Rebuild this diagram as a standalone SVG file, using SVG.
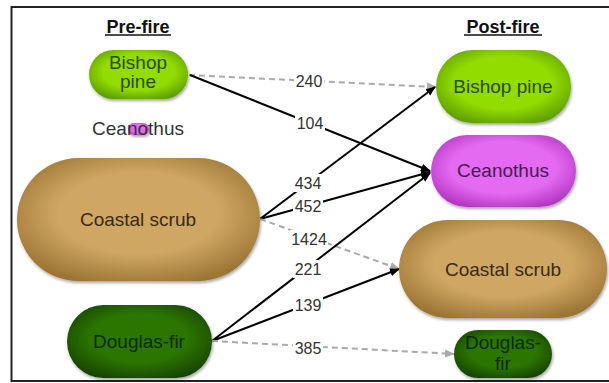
<svg xmlns="http://www.w3.org/2000/svg" width="609" height="383" viewBox="0 0 609 383">
<style>
.hdr{font-family:"Liberation Sans",Arial,sans-serif;font-size:18px;font-weight:bold;fill:#111;text-anchor:middle}
.nt{font-family:"Liberation Sans",Arial,sans-serif;font-size:19px;text-anchor:middle}
.lb{font-family:"Liberation Sans",Arial,sans-serif;font-size:16px;fill:#333;text-anchor:middle}
.solid{stroke:#000;stroke-width:2;fill:none;marker-end:url(#ah)}
.dash{stroke:#aaa;stroke-width:2;stroke-dasharray:6,4;fill:none;marker-end:url(#ahg)}
.lbg{fill:#fff}
</style>
<defs>
<radialGradient id="gBP" cx="50%" cy="45%" r="60%"><stop offset="0.6" stop-color="#92dc06"/><stop offset="1" stop-color="#5f9e00"/></radialGradient>
<radialGradient id="gCE" cx="50%" cy="45%" r="60%"><stop offset="0.6" stop-color="#e46af2"/><stop offset="1" stop-color="#b436c4"/></radialGradient>
<radialGradient id="gCS" cx="50%" cy="45%" r="60%"><stop offset="0.55" stop-color="#d0a762"/><stop offset="1" stop-color="#9c7434"/></radialGradient>
<radialGradient id="gDF" cx="50%" cy="45%" r="60%"><stop offset="0.55" stop-color="#2c7606"/><stop offset="1" stop-color="#174400"/></radialGradient>
<filter id="sh" x="-10%" y="-10%" width="120%" height="130%"><feDropShadow dx="1" dy="2" stdDeviation="1.5" flood-color="#000" flood-opacity="0.35"/></filter>
<marker id="ah" viewBox="0 0 10 10" refX="9" refY="5" markerWidth="5" markerHeight="5" orient="auto" markerUnits="strokeWidth"><path d="M0,1 L10,5 L0,9 z" fill="#000"/></marker>
<marker id="ahg" viewBox="0 0 10 10" refX="9" refY="5" markerWidth="5" markerHeight="5" orient="auto" markerUnits="strokeWidth"><path d="M0,1 L10,5 L0,9 z" fill="#aaa"/></marker>
</defs>
<rect x="0" y="0" width="609" height="383" fill="#fff"/>
<rect x="11.5" y="7" width="610" height="374" fill="#fff" stroke="#222" stroke-width="2"/>

<g id="headers">
<text class="hdr" x="138" y="33">Pre-fire</text>
<line x1="105" y1="35" x2="171" y2="35" stroke="#111" stroke-width="1.5"/>
<text class="hdr" x="503" y="33">Post-fire</text>
<line x1="464" y1="35" x2="542" y2="35" stroke="#111" stroke-width="1.5"/>
</g>

<g id="connectors">
<line class="dash" x1="189" y1="75" x2="436" y2="87"/>
<line class="solid" x1="190" y1="75" x2="430" y2="171"/>
<line class="solid" x1="260" y1="219" x2="435" y2="87"/>
<line class="solid" x1="260" y1="219" x2="430" y2="172"/>
<line class="dash" x1="260" y1="219" x2="399" y2="269"/>
<line class="solid" x1="212" y1="341" x2="430" y2="173"/>
<line class="solid" x1="212" y1="341" x2="399" y2="269"/>
<line class="dash" x1="212" y1="341" x2="454" y2="354"/>
<rect class="lbg" x="294" y="72" width="30" height="18"/>
<text class="lb" x="309" y="87">240</text>
<rect class="lbg" x="295" y="114" width="30" height="18"/>
<text class="lb" x="310" y="129">104</text>
<rect class="lbg" x="293" y="174" width="30" height="18"/>
<text class="lb" x="308" y="189">434</text>
<rect class="lbg" x="293" y="198" width="30" height="17"/>
<text class="lb" x="308" y="212">452</text>
<rect class="lbg" x="290" y="230" width="38" height="18"/>
<text class="lb" x="309" y="245">1424</text>
<rect class="lbg" x="293" y="260" width="30" height="18"/>
<text class="lb" x="308" y="275">221</text>
<rect class="lbg" x="293" y="296" width="30" height="18"/>
<text class="lb" x="308" y="311">139</text>
<rect class="lbg" x="293" y="339" width="30" height="18"/>
<text class="lb" x="308" y="354">385</text>
</g>

<g id="pre-bishop">
<rect x="89" y="50" width="99" height="49" rx="24.5" fill="url(#gBP)" filter="url(#sh)"/>
<text class="nt" x="138" y="69" fill="#2b4a05">Bishop</text>
<text class="nt" x="138" y="88" fill="#2b4a05">pine</text>
</g>

<g id="pre-ceanothus">
<rect x="128" y="123" width="21" height="12" rx="6" fill="url(#gCE)" filter="url(#sh)"/>
<text class="nt" x="138" y="135" fill="#333">Ceanothus</text>
</g>

<g id="pre-coastal">
<rect x="17" y="158" width="243" height="123" rx="61.5" fill="url(#gCS)" filter="url(#sh)"/>
<text class="nt" x="138" y="226" fill="#3a2a12">Coastal scrub</text>
</g>

<g id="pre-douglas">
<rect x="67" y="305" width="145" height="73" rx="36.5" fill="url(#gDF)" filter="url(#sh)"/>
<text class="nt" x="139" y="348" fill="#0f2a02">Douglas-fir</text>
</g>

<g id="post-bishop">
<rect x="436" y="50" width="135" height="73" rx="36.5" fill="url(#gBP)" filter="url(#sh)"/>
<text class="nt" x="503" y="93" fill="#2b4a05">Bishop pine</text>
</g>

<g id="post-ceanothus">
<rect x="431" y="135" width="145" height="72" rx="36" fill="url(#gCE)" filter="url(#sh)"/>
<text class="nt" x="503" y="177" fill="#4a1a50">Ceanothus</text>
</g>

<g id="post-coastal">
<rect x="399" y="220" width="208" height="98" rx="49" fill="url(#gCS)" filter="url(#sh)"/>
<text class="nt" x="503" y="276" fill="#3a2a12">Coastal scrub</text>
</g>

<g id="post-douglas">
<rect x="454" y="330" width="98" height="48" rx="24" fill="url(#gDF)" filter="url(#sh)"/>
<text class="nt" x="503" y="349" fill="#0f2a02">Douglas-</text>
<text class="nt" x="503" y="370" fill="#0f2a02">fir</text>
</g>
</svg>
